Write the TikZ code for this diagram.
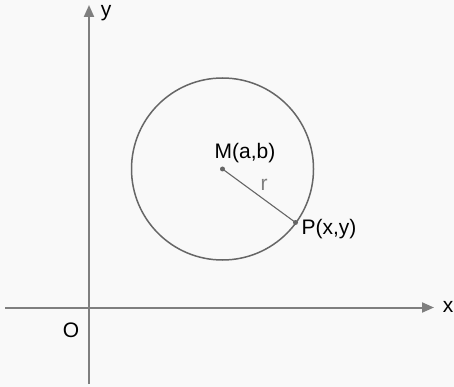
\documentclass[tikz,border=0pt]{standalone}
\usepackage{fontspec}
\setmainfont{Liberation Sans}
\usetikzlibrary{arrows.meta}
\definecolor{bg}{HTML}{F9F9F9}
\definecolor{axis}{HTML}{7F7F7F}
\definecolor{circ}{HTML}{666666}
\begin{document}
\begin{tikzpicture}[x=1pt,y=-1pt,
  axisline/.style={draw=axis,line width=2pt,-{Triangle[length=12pt,width=10pt]}},
  lbl/.style={font=\fontsize{21}{21}\selectfont,text=black,inner sep=0pt},
  dotnode/.style={circle,fill=circ,inner sep=0pt,minimum size=5pt}]
\fill[bg] (0,0) rectangle (454,387);
\useasboundingbox (0,0) rectangle (454,387);
\coordinate (xs) at (5,307.5);
\coordinate (xe) at (434,307.5);
\coordinate (ys) at (89,384);
\coordinate (ye) at (89,5);
\draw[axisline] (xs) -- (xe);
\draw[axisline] (ys) -- (ye);
\node[dotnode] (M) at (222.5,169) {};
\node[dotnode] (P) at (295.5,222.5) {};
\draw[circ,line width=1.5pt] (M.center) circle (91);
\draw[circ,line width=1.1pt] (M.center) -- (P.center);
\node[lbl] (Ml) at (245,153) {M(a,b)};
\node[lbl,text=axis] (rl) at (264,185) {r};
\node[lbl] (Pl) at (329,229) {P(x,y)};
\node[lbl] (xl) at (448,307) {x};
\node[lbl] (yl) at (106,13) {y};
\node[lbl] (Ol) at (71,330) {O};
\end{tikzpicture}
\end{document}
